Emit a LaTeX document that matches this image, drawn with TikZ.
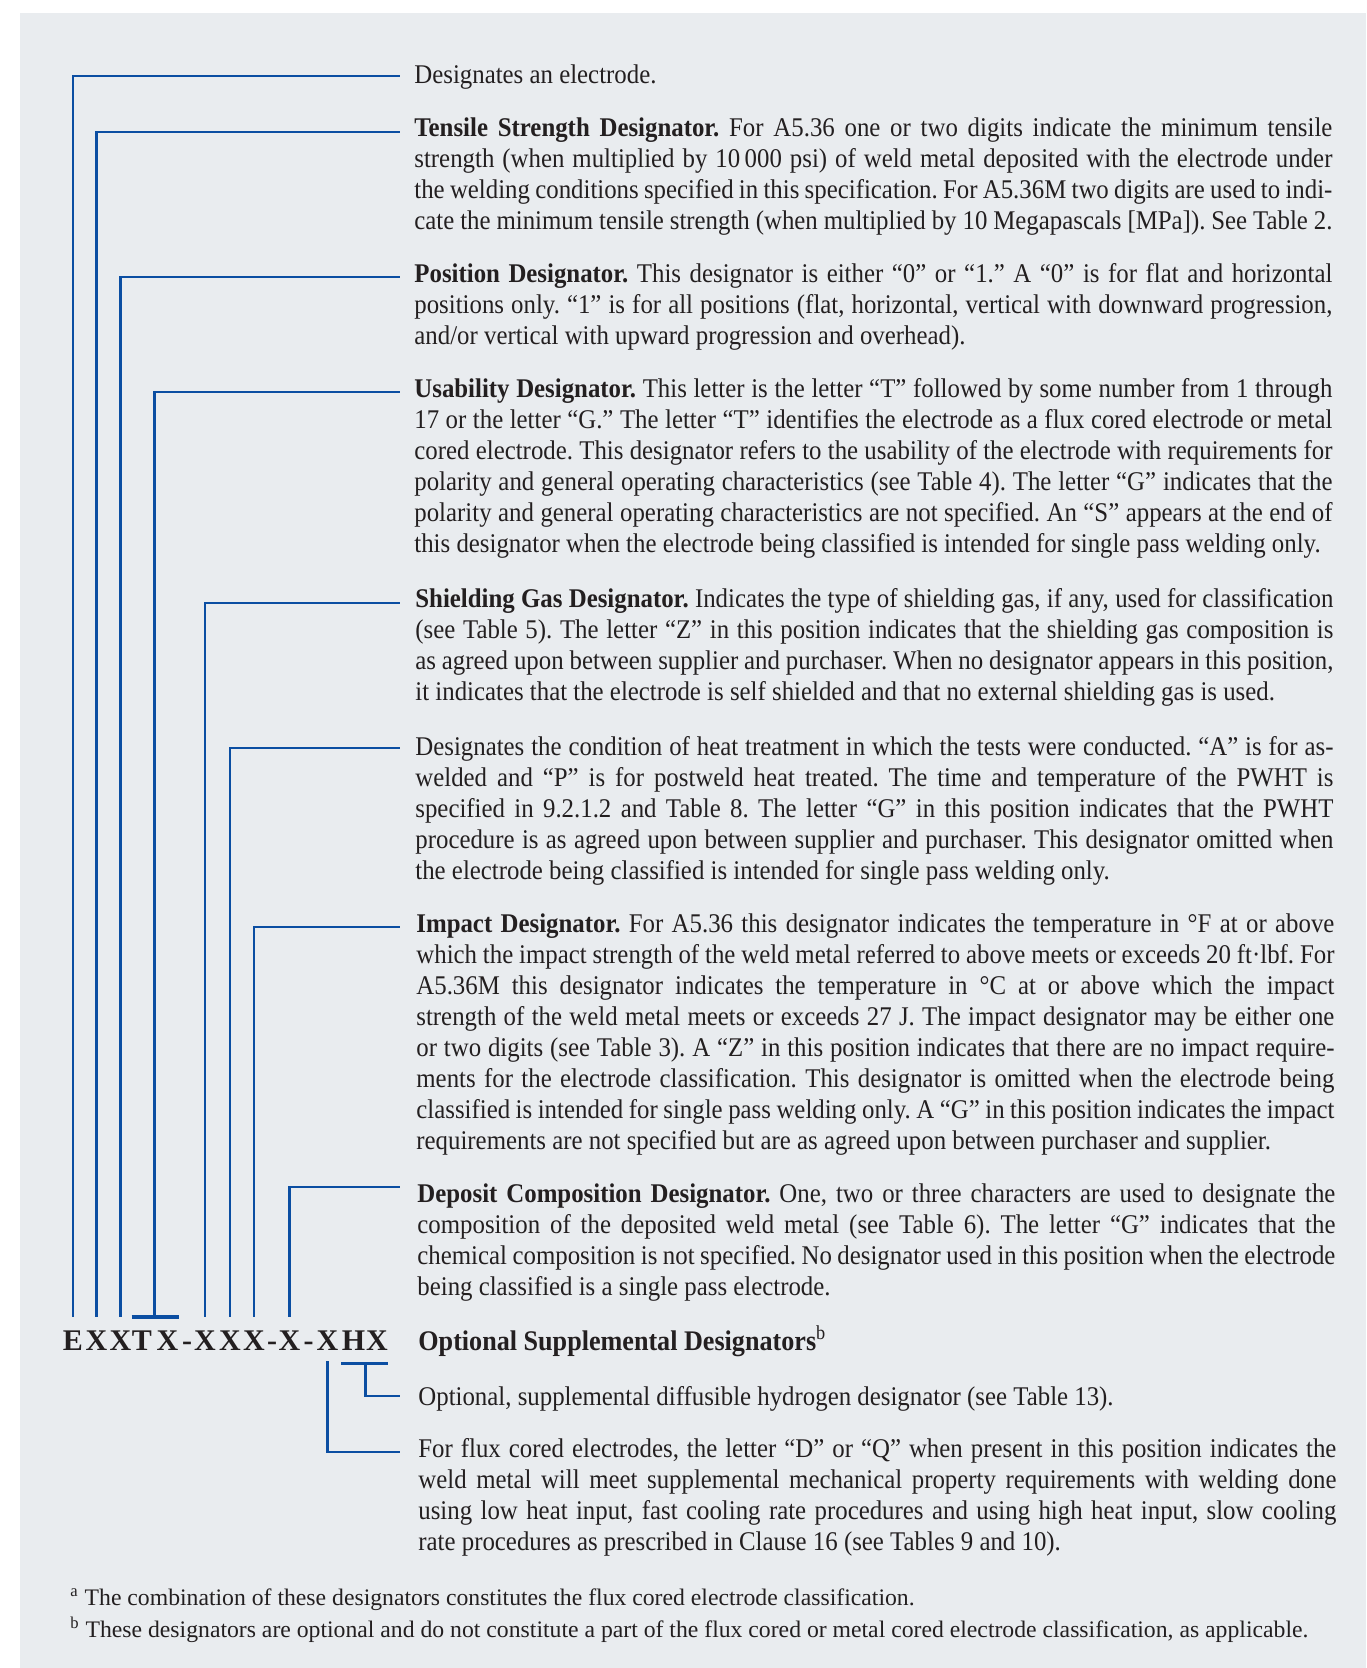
\documentclass[tikz,border=0pt]{standalone}
\usepackage{fontspec}
\setmainfont{Liberation Serif}[FakeStretch=0.92]
\newfontfamily\plainserif{Liberation Serif}
\usetikzlibrary{calc}
\definecolor{panel}{HTML}{E9ECEF}
\definecolor{leadblue}{HTML}{0B4EA2}
\definecolor{ink}{HTML}{231F20}
\tolerance=2000
\frenchspacing

\begin{document}
\begin{tikzpicture}[x=0.5pt,y=-0.5pt,
		lead/.style={leadblue,line width=1.25pt},
		bar/.style={leadblue,line width=1.9pt},
		desc/.style={anchor=base west,inner sep=0pt,text width=459pt,align=justify,text=ink,
			font=\fontsize{13.5}{15.5}\selectfont},
		code/.style={anchor=base,inner sep=0pt,text=ink,font=\plainserif\fontsize{15}{18}\selectfont\bfseries},
		note/.style={anchor=base west,inner sep=0pt,text=ink,font=\plainserif\fontsize{11.85}{14}\selectfont}]
    		\useasboundingbox (0,0) rectangle (1366,1668);
    		\fill[white] (0,0) rectangle (1366,1668);
    		\fill[panel] (20,13) rectangle (1366,1668);

    		% the classification code, one node per character
    		\foreach \ch/\xx [count=\i] in {E/73,X/96.5,X/120.5,T/142,X/167.5,-/187,X/205,X/230,X/254,-/272,X/289.5,-/308.5,X/327.5,H/353.5,X/377}
    			\node[code] (c\i) at (\xx,1350) {\ch};

    		% ends of the leaders
    		\coordinate (electrodeln) at (400,76);
    		\coordinate (tensileln) at (400,132);
    		\coordinate (positionln) at (400,277);
    		\coordinate (usabilityln) at (400,392);
    		\coordinate (shieldingln) at (400,603);
    		\coordinate (heatln) at (400,748);
    		\coordinate (impactln) at (400,927);
    		\coordinate (depositln) at (400,1187);
    		\coordinate (hydrogenln) at (400,1396);
    		\coordinate (fluxln) at (400,1452);

    		\node[desc] (electrode) at (414,84) {Designates an electrode.};
    		\node[desc] (tensile) at (414,137) {\textbf{Tensile Strength Designator.} For A5.36 one or two digits indicate the minimum tensile \linebreak
					strength (when multiplied by 10\,000 psi) of weld metal deposited with the electrode under \linebreak
					the welding conditions specified in this specification. For A5.36M two digits are used to indi-\linebreak
					cate the minimum tensile strength (when multiplied by 10 Megapascals [MPa]). See Table 2.};
    		\node[desc] (position) at (414,283) {\textbf{Position Designator.} This designator is either “0” or “1.” A “0” is for flat and horizontal \linebreak
					positions only. “1” is for all positions (flat, horizontal, vertical with downward progression, \linebreak
					and/or vertical with upward progression and overhead).};
    		\node[desc] (usability) at (414,398) {\textbf{Usability Designator.} This letter is the letter “T” followed by some number from 1 through \linebreak
					17 or the letter “G.” The letter “T” identifies the electrode as a flux cored electrode or metal \linebreak
					cored electrode. This designator refers to the usability of the electrode with requirements for \linebreak
					polarity and general operating characteristics (see Table 4). The letter “G” indicates that the \linebreak
					polarity and general operating characteristics are not specified. An “S” appears at the end of \linebreak
					this designator when the electrode being classified is intended for single pass welding only.};
    		\node[desc] (shielding) at (415,607) {\textbf{Shielding Gas Designator.} Indicates the type of shielding gas, if any, used for classification \linebreak
					(see Table 5). The letter “Z” in this position indicates that the shielding gas composition is \linebreak
					as agreed upon between supplier and purchaser. When no designator appears in this position, \linebreak
					it indicates that the electrode is self shielded and that no external shielding gas is used.};
    		\node[desc] (heat) at (415,755) {Designates the condition of heat treatment in which the tests were conducted. “A” is for as-\linebreak
					welded and “P” is for postweld heat treated. The time and temperature of the PWHT is \linebreak
					specified in 9.2.1.2 and Table 8. The letter “G” in this position indicates that the PWHT \linebreak
					procedure is as agreed upon between supplier and purchaser. This designator omitted when \linebreak
					the electrode being classified is intended for single pass welding only.};
    		\node[desc] (impact) at (416,932) {\textbf{Impact Designator.} For A5.36 this designator indicates the temperature in °F at or above \linebreak
					which the impact strength of the weld metal referred to above meets or exceeds 20 ft·lbf. For \linebreak
					A5.36M this designator indicates the temperature in °C at or above which the impact \linebreak
					strength of the weld metal meets or exceeds 27 J. The impact designator may be either one \linebreak
					or two digits (see Table 3). A “Z” in this position indicates that there are no impact require-\linebreak
					ments for the electrode classification. This designator is omitted when the electrode being \linebreak
					classified is intended for single pass welding only. A “G” in this position indicates the impact \linebreak
					requirements are not specified but are as agreed upon between purchaser and supplier.};
    		\node[desc] (deposit) at (417,1202) {\textbf{Deposit Composition Designator.} One, two or three characters are used to designate the \linebreak
					composition of the deposited weld metal (see Table 6). The letter “G” indicates that the \linebreak
					chemical composition is not specified. No designator used in this position when the electrode \linebreak
					being classified is a single pass electrode.};
    		\node[desc,font=\fontsize{14.2}{16}\selectfont] (optional) at (418,1350) {\textbf{Optional Supplemental Designators}\textsuperscript{b}};
    		\node[desc] (hydrogen) at (418,1405) {Optional, supplemental diffusible hydrogen designator (see Table 13).};
    		\node[desc] (flux) at (418,1457) {For flux cored electrodes, the letter “D” or “Q” when present in this position indicates the \linebreak
					weld metal will meet supplemental mechanical property requirements with welding done \linebreak
					using low heat input, fast cooling rate procedures and using high heat input, slow cooling \linebreak
					rate procedures as prescribed in Clause 16 (see Tables 9 and 10).};

    		% leaders above the code
    		\draw[lead] ([yshift=6.5pt]c1.north) |- (electrodeln);
    		\draw[lead] ([yshift=6.5pt]c2.north) |- (tensileln);
    		\draw[lead] ([yshift=6.5pt]c3.north) |- (positionln);
    		\draw[bar] ([yshift=6.5pt]c4.north west) -- ([yshift=6.5pt]c5.north east);
    		\draw[lead] ($([yshift=6.5pt]c4.north east)!0.5!([yshift=6.5pt]c5.north west)$) |- (usabilityln);
    		\draw[lead] ([yshift=6.5pt]c7.north) |- (shieldingln);
    		\draw[lead] ([yshift=6.5pt]c8.north) |- (heatln);
    		\draw[lead] ([yshift=6.5pt]c9.north) |- (impactln);
    		\draw[lead] ([yshift=6.5pt]c11.north) |- (depositln);

    		% leaders below the code
    		\draw[bar] ([yshift=-6.5pt]c14.south west) -- ([yshift=-6.5pt]c15.south east);
    		\draw[lead] ($([yshift=-6.5pt]c14.south east)!0.5!([yshift=-6.5pt]c15.south west)$) |- (hydrogenln);
    		\draw[lead] ([yshift=-5.5pt]c13.south) |- (fluxln);

    		\node[note] (notea) at (70,1605) {\textsuperscript{a} The combination of these designators constitutes the flux cored electrode classification.};
    		\node[note] (noteb) at (70,1637) {\textsuperscript{b} These designators are optional and do not constitute a part of the flux cored or metal cored electrode classification, as applicable.};
    	\end{tikzpicture}
\end{document}
